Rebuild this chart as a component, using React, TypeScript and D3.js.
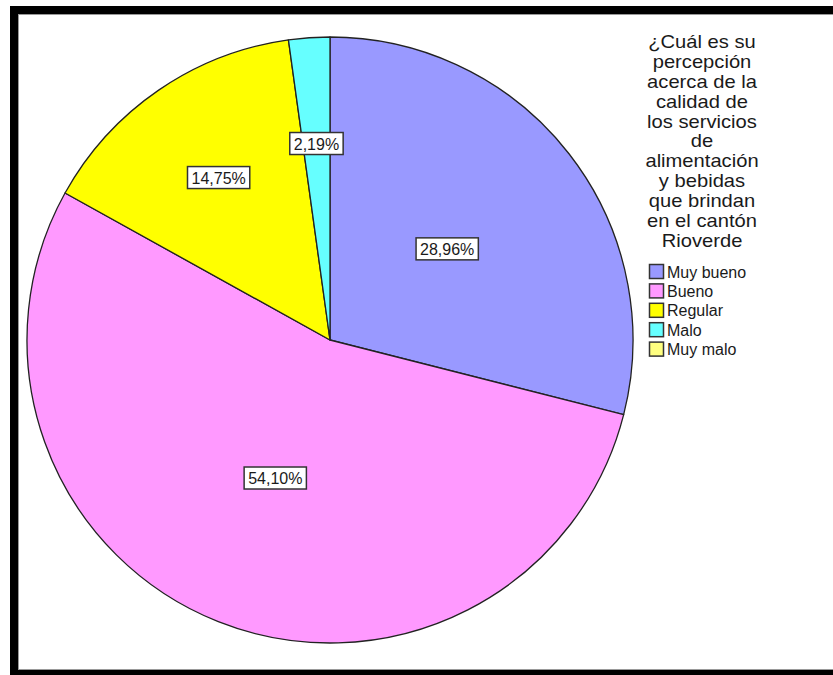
import React, { useRef, useEffect } from 'react';
import * as d3 from 'd3';

// Pie data (percentages)
const categories = ['Muy bueno', 'Bueno', 'Regular', 'Malo', 'Muy malo'];
const percents = [28.96, 54.10, 14.75, 2.19, 0];
const colors = ['#9999ff', '#ff99ff', '#ffff00', '#66ffff', '#ffff80'];
const titleLines = [
  '¿Cuál es su',
  'percepción',
  'acerca de la',
  'calidad de',
  'los servicios',
  'de',
  'alimentación',
  'y bebidas',
  'que brindan',
  'en el cantón',
  'Rioverde',
];

const W = 833;
const H = 675;

interface Slice {
  name: string;
  value: number;
  color: string;
}

export default function App() {
  const svgRef = useRef<SVGSVGElement>(null);

  useEffect(() => {
    if (!svgRef.current) return;
    const svg = d3.select(svgRef.current);
    svg.selectAll('*').remove();

    const font = 'Arial, "Liberation Sans", sans-serif';

    // frame
    svg.append('rect').attr('x', 10).attr('y', 6).attr('width', 900).attr('height', 700).attr('fill', '#000');
    svg.append('rect')
      .attr('x', 18.5).attr('y', 14.5).attr('width', 900).attr('height', 655)
      .attr('fill', '#fff').attr('stroke', '#999').attr('stroke-width', 1);

    const data: Slice[] = categories.map((name, i) => ({ name, value: percents[i], color: colors[i] }));

    const cx = 330;
    const cy = 340;
    const R = 303;

    const pie = d3.pie<Slice>().sort(null).value(d => d.value);
    const arcs = pie(data.filter(d => d.value > 0));
    const arc = d3.arc<d3.PieArcDatum<Slice>>().innerRadius(0).outerRadius(R);

    const g = svg.append('g').attr('transform', `translate(${cx},${cy})`);

    g.selectAll('path.slice')
      .data(arcs)
      .enter()
      .append('path')
      .attr('class', 'slice')
      .attr('d', arc)
      .attr('fill', d => d.data.color)
      .attr('stroke', '#222')
      .attr('stroke-width', 1.3)
      .attr('stroke-linejoin', 'round');

    // value labels in white boxes
    arcs.forEach(d => {
      const frac = d.data.value < 20 ? 0.65 : 0.49;
      const mid = (d.startAngle + d.endAngle) / 2;
      const x = Math.sin(mid) * R * frac;
      const y = -Math.cos(mid) * R * frac;
      const label = d.data.value.toFixed(2).replace('.', ',') + '%';
      const lg = g.append('g').attr('transform', `translate(${x},${y})`);
      const t = lg.append('text')
        .attr('text-anchor', 'middle')
        .attr('y', 6)
        .attr('font-family', font)
        .attr('font-size', 16)
        .attr('fill', '#1a1a1a')
        .text(label);
      const bw = (t.node() as SVGTextElement).getComputedTextLength() + 8;
      lg.insert('rect', 'text')
        .attr('x', -bw / 2)
        .attr('y', -11)
        .attr('width', bw)
        .attr('height', 22)
        .attr('fill', '#fff')
        .attr('stroke', '#333')
        .attr('stroke-width', 1.5);
    });

    // legend title (slightly wider glyphs than plain Arial)
    const title = svg.append('text')
      .attr('transform', 'translate(702,0) scale(1.12,1)')
      .attr('font-family', font)
      .attr('font-size', 18)
      .attr('fill', '#1a1a1a')
      .attr('text-anchor', 'middle');
    titleLines.forEach((line, i) => {
      title.append('tspan').attr('x', 0).attr('y', 48 + i * 19.9).text(line);
    });

    // legend items
    const legend = svg.append('g').attr('transform', 'translate(649,264)');
    data.forEach((d, i) => {
      const row = legend.append('g').attr('transform', `translate(0,${i * 19.4})`);
      row.append('rect')
        .attr('x', 0.5).attr('y', 0.5)
        .attr('width', 14).attr('height', 14)
        .attr('fill', d.color)
        .attr('stroke', '#333')
        .attr('stroke-width', 1.5);
      row.append('text')
        .attr('x', 18)
        .attr('y', 13.5)
        .attr('font-family', font)
        .attr('font-size', 16)
        .attr('fill', '#1a1a1a')
        .text(d.name);
    });
  }, []);

  return (
    <div style={{ position: 'absolute', left: 0, top: 0, width: W, height: H, overflow: 'hidden' }}>
      <svg ref={svgRef} width={W} height={H} style={{ display: 'block', background: '#fff' }} />
    </div>
  );
}
